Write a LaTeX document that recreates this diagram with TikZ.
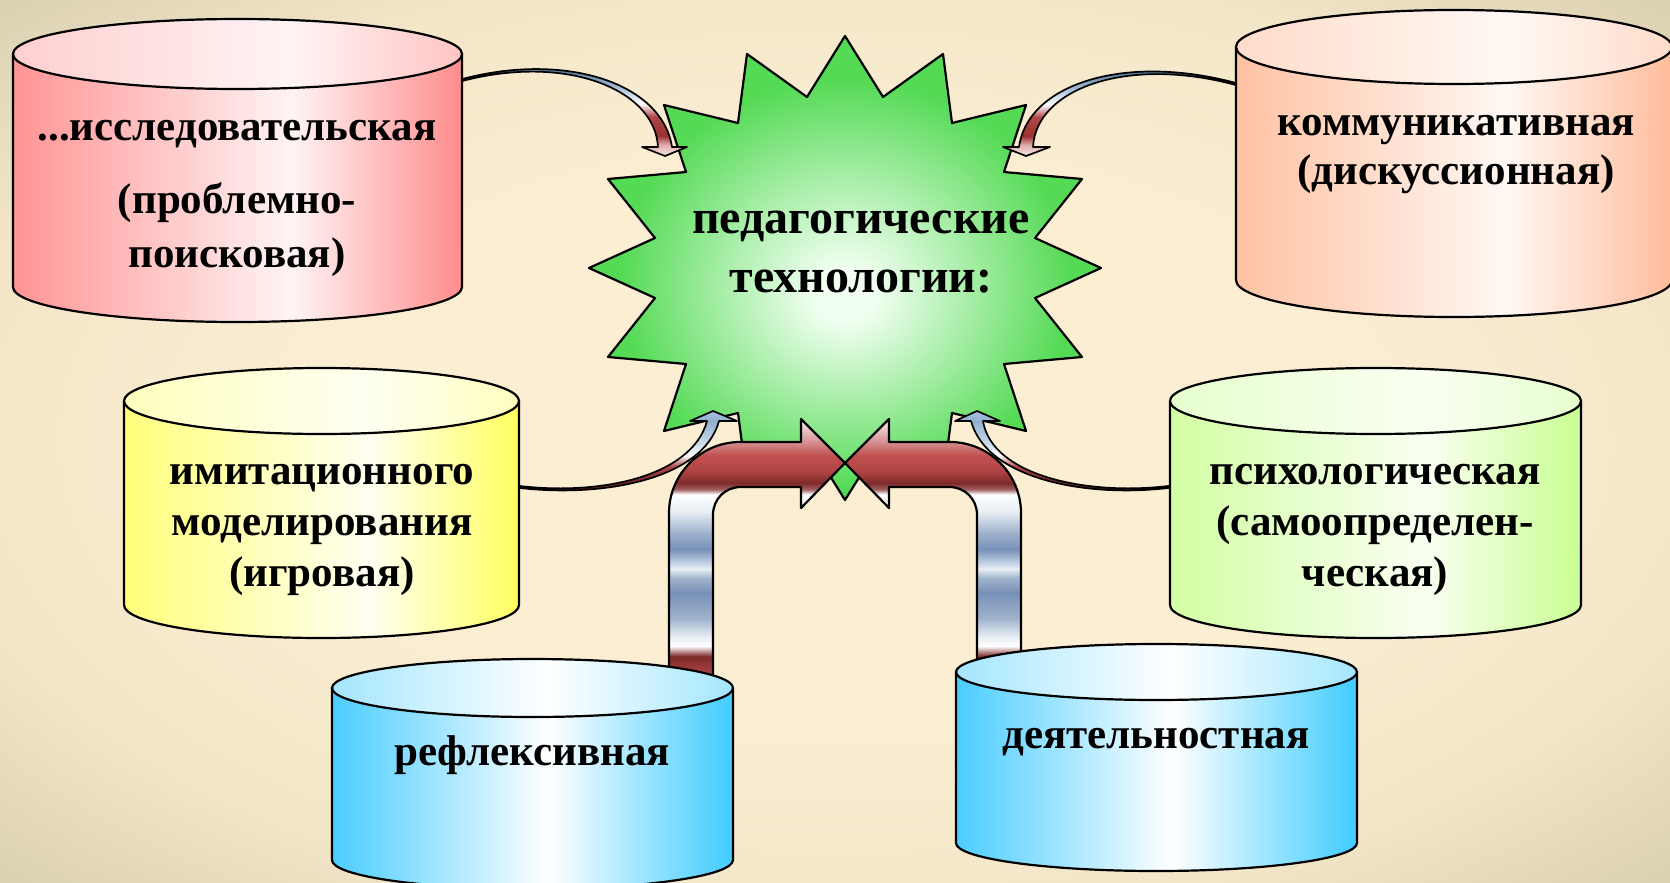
\documentclass[tikz,border=0pt]{standalone}
\usepackage{fontspec}
\setmainfont{Liberation Serif}
\usetikzlibrary{calc}
% background
\definecolor{bgA}{HTML}{FCEED3}
\definecolor{bgB}{HTML}{F3E6C8}
\definecolor{bgC}{HTML}{D8CEB0}
% star
\definecolor{stC}{HTML}{F0FFF0}
\definecolor{stM}{HTML}{A8EEA8}
\definecolor{stE}{HTML}{55DA55}
% U arrow
\definecolor{uR1}{HTML}{C05050}
\definecolor{uR2}{HTML}{B04444}
\definecolor{uD}{HTML}{7E2A2A}
\definecolor{uL}{HTML}{E8EEF4}
\definecolor{uB}{HTML}{7890B8}
\definecolor{uB2}{HTML}{A0B4CC}
\definecolor{uB3}{HTML}{C0D0E4}
\definecolor{uP}{HTML}{A06060}
\definecolor{uPk}{HTML}{D89898}
\definecolor{uW}{HTML}{F8F0F0}
% thin arrows
\definecolor{taPk}{HTML}{F8E8E8}
\definecolor{taP2}{HTML}{E0AAAA}
\definecolor{taD}{HTML}{9A3030}
\definecolor{taR}{HTML}{B04848}
\definecolor{taLB}{HTML}{B8CCE0}
\definecolor{taB}{HTML}{6080A0}
\definecolor{taDk}{HTML}{304060}
\definecolor{baDk}{HTML}{401818}
\definecolor{baD}{HTML}{7A2828}
\definecolor{baR}{HTML}{B04848}
\definecolor{baL}{HTML}{C8D8E8}
\definecolor{baB}{HTML}{90B0D0}
\definecolor{baT}{HTML}{A8C4E0}
% cylinders
\definecolor{redE}{HTML}{FF9494}
\definecolor{redE2}{HTML}{FF8C8C}
\definecolor{redL}{HTML}{FFF4F4}
\definecolor{redT}{HTML}{FFCFCF}
\definecolor{redT2}{HTML}{FFC4C4}
\definecolor{peE}{HTML}{FFC2A2}
\definecolor{peE2}{HTML}{FFBC9A}
\definecolor{peL}{HTML}{FFF8F4}
\definecolor{peT}{HTML}{FFDCCA}
\definecolor{yeE}{HTML}{FFFF7A}
\definecolor{yeE2}{HTML}{FFFF60}
\definecolor{yeL}{HTML}{FFFFF2}
\definecolor{yeT}{HTML}{FFFFBE}
\definecolor{grE}{HTML}{D2FFA4}
\definecolor{grE2}{HTML}{C8FF92}
\definecolor{grL}{HTML}{FAFFF2}
\definecolor{grT}{HTML}{E6FFCE}
\definecolor{blE}{HTML}{4ACDFF}
\definecolor{blE2}{HTML}{40CCFF}
\definecolor{blL}{HTML}{FFFFFF}
\definecolor{blT}{HTML}{A4E6FF}

\pgfdeclareradialshading{bgshade}{\pgfpoint{0bp}{0bp}}{color(0bp)=(bgA); color(15bp)=(bgA); color(27bp)=(bgB); color(36bp)=(bgC); color(50bp)=(bgC)}
\pgfdeclareradialshading{starshade}{\pgfpoint{0bp}{-3bp}}{color(0bp)=(stC); color(3bp)=(stC); color(12bp)=(stM); color(22bp)=(stE); color(50bp)=(stE)}
\pgfdeclareverticalshading{ushade}{100bp}{color(0bp)=(uR1); color(25bp)=(uR1); color(30.3bp)=(uR2); color(33.5bp)=(uD); color(35.3bp)=(white); color(36.9bp)=(uL); color(40.1bp)=(uB2); color(44.6bp)=(uB); color(47.2bp)=(uB2); color(48.8bp)=(uL); color(49.9bp)=(uB3); color(52.2bp)=(uB); color(55.2bp)=(uB2); color(58.8bp)=(uL); color(61.8bp)=(white); color(62.7bp)=(uP); color(63.8bp)=(uD); color(65.9bp)=(uR2); color(68.6bp)=(uR1); color(71.3bp)=(uPk); color(75bp)=(uW); color(100bp)=(uW)}
\pgfdeclareverticalshading{tarrow}{100bp}{color(0bp)=(taPk); color(25bp)=(taPk); color(30.4bp)=(taP2); color(34.6bp)=(taD); color(43.7bp)=(taR); color(49.7bp)=(white); color(55.7bp)=(taLB); color(64.7bp)=(taB); color(75bp)=(taDk); color(100bp)=(taDk)}
\pgfdeclareverticalshading{barrow}{100bp}{color(0bp)=(baDk); color(25bp)=(baDk); color(35.5bp)=(baD); color(43.5bp)=(baR); color(49.7bp)=(white); color(57.1bp)=(baL); color(69.4bp)=(baB); color(75bp)=(baT); color(100bp)=(baT)}

\newcommand\mkside[4]{\pgfdeclarehorizontalshading{#1}{100bp}{color(0bp)=(#2); color(25bp)=(#2); color(56bp)=(#3); color(75bp)=(#4); color(100bp)=(#4)}}
\mkside{redside}{redE}{redL}{redE2}
\mkside{redtop}{redT}{redL}{redT2}
\mkside{peside}{peE}{peL}{peE2}
\mkside{petop}{peT}{peL}{peT}
\mkside{yeside}{yeE}{yeL}{yeE2}
\mkside{yetop}{yeT}{yeL}{yeT}
\mkside{grside}{grE}{grL}{grE2}
\mkside{grtop}{grT}{grL}{grT}
\pgfdeclarehorizontalshading{blside}{100bp}{color(0bp)=(blE); color(25bp)=(blE); color(52bp)=(blL); color(75bp)=(blE2); color(100bp)=(blE2)}
\pgfdeclarehorizontalshading{bltop}{100bp}{color(0bp)=(blT); color(25bp)=(blT); color(52bp)=(blL); color(75bp)=(blT); color(100bp)=(blT)}

% cx, rx, ytop, ybot, ry, side shading, top shading
\newcommand\mycyl[7]{%
  \shadedraw[shading=#6, draw=black, line width=2.2pt]
    ({#1-#2},#3) -- ({#1-#2},#4)
    .. controls ({#1-#2},{#4+0.5523*#5}) and ({#1-0.5523*#2},{#4+#5}) .. (#1,{#4+#5})
    .. controls ({#1+0.5523*#2},{#4+#5}) and ({#1+#2},{#4+0.5523*#5}) .. ({#1+#2},#4)
    -- ({#1+#2},#3) -- cycle;
  \shadedraw[shading=#7, draw=black, line width=2.2pt] (#1,#3) ellipse [x radius=#2, y radius=#5];
}

\begin{document}
\begin{tikzpicture}[x=1pt,y=-1pt,line join=round,
  lbl/.style={anchor=base, inner sep=0pt, font=\fontsize{43}{50}\selectfont\bfseries},
  starlbl/.style={anchor=base, inner sep=0pt, font=\fontsize{48}{56}\selectfont\bfseries},
  thinarrow/.style={draw=black, line width=1.7pt},
  bigarrow/.style={shading=ushade, draw=black, line width=2.2pt}]
\useasboundingbox (0,0) rectangle (1670,883);
\clip (0,0) rectangle (1670,883);
\shade[shading=bgshade] (0,0) rectangle (1670,883);

% star
\shadedraw[shading=starshade, draw=black, line width=2.2pt]
 (845,36) -- (883,97) -- (943,54) -- (952,123) -- (1026,105) -- (1004,172) -- (1082,179) -- (1035,238) -- (1101,268) -- (1035,298) -- (1082,357) -- (1004,364) -- (1026,431) -- (952,413) -- (943,482) -- (883,439) -- (845,500)
 -- (807,439) -- (747,482) -- (738,413) -- (664,431) -- (686,364) -- (608,357) -- (655,298) -- (589,268) -- (655,238) -- (608,179) -- (686,172) -- (664,105) -- (738,123) -- (747,54) -- (807,97) -- cycle;
\node[starlbl] (s1) at (861,233) {педагогические};
\node[starlbl] (s2) at (861,292) {технологии:};

% big U arrows
\shadedraw[bigarrow] (669,705) -- (669,513) .. controls (669,474) and (701,442) .. (740,442) -- (801,442) -- (801,419) -- (845,463) -- (801,508) -- (801,487) -- (741,487) .. controls (725,487) and (713,499) .. (713,515) -- (713,705) -- cycle;
\shadedraw[bigarrow] (1021,705) -- (1021,513) .. controls (1021,474) and (989,442) .. (950,442) -- (889,442) -- (889,419) -- (845,463) -- (889,508) -- (889,487) -- (949,487) .. controls (965,487) and (977,499) .. (977,515) -- (977,705) -- cycle;

% thin curved arrows (tapered)
\shadedraw[thinarrow, shading=tarrow] (455,81) .. controls (562,50) and (662,82) .. (672,147) -- (687,147) -- (665,156) -- (642,147) -- (658,147) .. controls (655,88) and (562,52) .. (455,83) -- cycle;
\shadedraw[thinarrow, shading=tarrow] (1243,85) .. controls (1130,52) and (1028,82) .. (1019,147) -- (1003,147) -- (1026,156) -- (1050,147) -- (1033,147) .. controls (1036,88) and (1130,54) .. (1243,87) -- cycle;
\shadedraw[thinarrow, shading=barrow] (512,485) .. controls (598,497) and (692,477) .. (707,421) -- (690,421) -- (713,411) -- (737,421) -- (719,421) .. controls (703,480) and (600,499) .. (512,487) -- cycle;
\shadedraw[thinarrow, shading=barrow] (1176,485) .. controls (1092,497) and (992,477) .. (983,421) -- (1000,421) -- (977,411) -- (955,421) -- (971,421) .. controls (987,480) and (1090,499) .. (1176,487) -- cycle;

% cylinders
\mycyl{237.5}{224.5}{54}{287}{35}{redside}{redtop}
\mycyl{1454}{218}{47}{280}{37}{peside}{petop}
\mycyl{321.5}{197.5}{401}{605}{33}{yeside}{yetop}
\mycyl{1375.5}{205.5}{401}{605}{33}{grside}{grtop}
\mycyl{532.5}{200.5}{688}{860}{29}{blside}{bltop}
\mycyl{1156.5}{200.5}{672}{843}{28}{blside}{bltop}

% texts
\node[lbl] (r1) at (237,140) {...исследовательская};
\node[lbl] (r2) at (237,213) {(проблемно-};
\node[lbl] (r3) at (237,267) {поисковая)};
\node[lbl] (p1) at (1456,135) {коммуникативная};
\node[lbl] (p2) at (1456,184) {(дискуссионная)};
\node[lbl] (y1) at (322,484) {имитационного};
\node[lbl] (y2) at (322,535) {моделирования};
\node[lbl] (y3) at (322,586) {(игровая)};
\node[lbl] (g1) at (1375,484) {психологическая};
\node[lbl] (g2) at (1375,535) {(самоопределен-};
\node[lbl] (g3) at (1375,586) {ческая)};
\node[lbl] (b1) at (532,765) {рефлексивная};
\node[lbl] (b2) at (1156,748) {деятельностная};
\end{tikzpicture}
\end{document}
